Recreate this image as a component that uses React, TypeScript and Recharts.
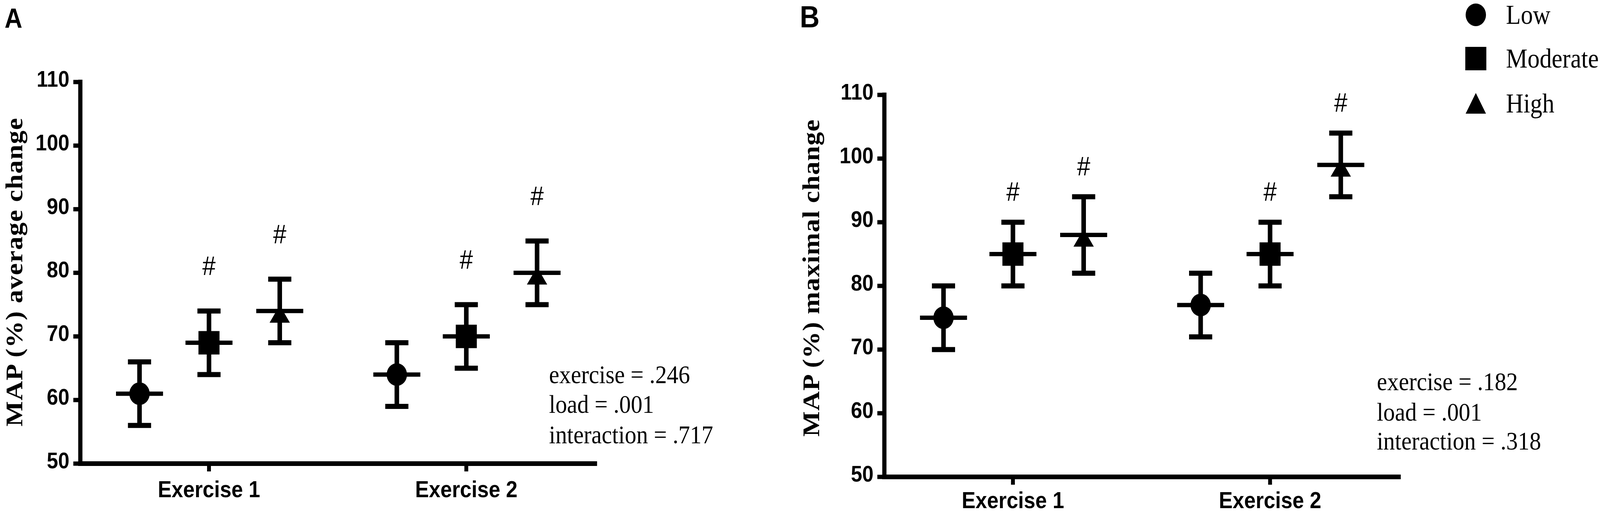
import React from "react";
import {
  ScatterChart,
  Scatter,
  XAxis,
  YAxis,
  ErrorBar,
  Legend,
  Label,
} from "recharts";

// categories / series
const exercises = ["Exercise 1", "Exercise 2"];
const levels = ["Low", "Moderate", "High"];
const yTicks = [50, 60, 70, 80, 90, 100, 110];

// A: MAP (%) average change, mean and SD per exercise
const avgLow = [61, 64];
const avgModerate = [69, 70];
const avgHigh = [74, 80];
const avgLowErr = [5, 5];
const avgModerateErr = [5, 5];
const avgHighErr = [5, 5];

// B: MAP (%) maximal change
const maxLow = [75, 77];
const maxModerate = [85, 85];
const maxHigh = [88, 99];
const maxLowErr = [5, 5];
const maxModerateErr = [5, 5];
const maxHighErr = [6, 5];

// p values printed on each panel
const avgStats = ["exercise = .246", "load = .001", "interaction = .717"];
const maxStats = ["exercise = .182", "load = .001", "interaction = .318"];

// levels marked with # (different from Low)
const flaggedLevels = ["Moderate", "High"];

const SANS = "'Liberation Sans', Arial, Helvetica, sans-serif";
const SERIF = "'Liberation Serif', 'Times New Roman', Times, serif";
const W = 4561;
const H = 1316;
const Y_AXIS_W = 120;
const X_AXIS_H = 90;
const GROUP_OFFSETS = [-0.27, 0, 0.275];

type Pt = { x: number; y: number; err: number; flag: boolean };

function toPoints(means: number[], errs: number[], level: number): Pt[] {
  return means.map((m, i) => ({
    x: i + 0.5 + GROUP_OFFSETS[level],
    y: m,
    err: errs[i],
    flag: flaggedLevels.includes(levels[level]),
  }));
}

function Marker({ kind, cx, cy, legend }: { kind: string; cx: number; cy: number; legend?: boolean }) {
  if (kind === "Low") return <circle cx={cx} cy={cy} r={29} fill="#000" />;
  if (kind === "Moderate")
    return <rect x={cx - 30} y={cy - 30} width={60} height={60} fill="#000" />;
  // triangle sits a bit low on the point in the original
  const top = legend ? cy - 27 : cy - 15;
  const base = legend ? cy + 26 : cy + 30;
  return <polygon points={`${cx},${top} ${cx - 29},${base} ${cx + 29},${base}`} fill="#000" />;
}

const pointShape = (kind: string, pxPerUnit: number, hashGap: number) => (props: any) => {
  const { cx, cy, payload } = props;
  if (cx == null || cy == null) return <g />;
  return (
    <g>
      <Marker kind={kind} cx={cx} cy={cy} />
      <line x1={cx - 67} x2={cx + 67} y1={cy} y2={cy} stroke="#000" strokeWidth={11} />
      {payload && payload.flag && (
        <text
          x={cx}
          y={cy - payload.err * pxPerUnit - hashGap + 24}
          textAnchor="middle"
          fontFamily={SANS}
          fontSize={68}
          fill="#000"
        >
          #
        </text>
      )}
    </g>
  );
};

const makeXTick = (drop: number) => (props: any) => {
  const { x, y, payload } = props;
  return (
    <text x={x} y={y + drop} textAnchor="middle" fontFamily={SANS} fontWeight="bold" fontSize={59} fill="#000">
      {exercises[Math.floor(payload.value)]}
    </text>
  );
};

const YTick = (props: any) => {
  const { x, y, payload } = props;
  return (
    <text x={x} y={y + 12} textAnchor="end" fontFamily={SANS} fontWeight="bold" fontSize={58} fill="#000">
      {payload.value}
    </text>
  );
};

const LoadLegend = (props: any) => {
  const names = (props.payload || []).map((p: any) => p.value);
  const items = levels.filter((l) => names.includes(l));
  const rows = [38, 150, 265];
  return (
    <svg width={400} height={310} style={{ overflow: "visible" }}>
      {items.map((name: string, i: number) => (
        <g key={name}>
          <Marker kind={name} cx={37} cy={rows[i]} legend />
          <text x={123} y={rows[i] + 23} fontFamily={SERIF} fontSize={69} fill="#000">
            {name}
          </text>
        </g>
      ))}
    </svg>
  );
};

type PanelProps = {
  left: number;
  width: number;
  margin: { top: number; right: number; bottom: number; left: number };
  title: string;
  titleX: number;
  titleY: number;
  titleLen: number;
  low: number[];
  lowErr: number[];
  moderate: number[];
  moderateErr: number[];
  high: number[];
  highErr: number[];
  hashGap: number;
  labelDrop: number;
  legend?: boolean;
};

function Panel(p: PanelProps) {
  const plotH = H - p.margin.top - p.margin.bottom - X_AXIS_H;
  const ppu = plotH / (yTicks[yTicks.length - 1] - yTicks[0]);
  const XTick = makeXTick(p.labelDrop);
  const series = [
    { name: levels[0], data: toPoints(p.low, p.lowErr, 0) },
    { name: levels[1], data: toPoints(p.moderate, p.moderateErr, 1) },
    { name: levels[2], data: toPoints(p.high, p.highErr, 2) },
  ];
  return (
    <div style={{ position: "absolute", left: p.left, top: 0 }}>
      <ScatterChart width={p.width} height={H} margin={p.margin}>
        <XAxis
          type="number"
          dataKey="x"
          domain={[0, 2]}
          ticks={[0.5, 1.5]}
          interval={0}
          height={X_AXIS_H}
          axisLine={{ stroke: "#000", strokeWidth: 12, strokeLinecap: "square" }}
          tickLine={{ stroke: "#000", strokeWidth: 11 }}
          tickSize={20}
          tickMargin={0}
          tick={<XTick />}
        />
        <YAxis
          type="number"
          dataKey="y"
          domain={[yTicks[0], yTicks[yTicks.length - 1]]}
          ticks={yTicks}
          interval={0}
          width={Y_AXIS_W}
          axisLine={{ stroke: "#000", strokeWidth: 12, strokeLinecap: "square" }}
          tickLine={{ stroke: "#000", strokeWidth: 11 }}
          tickSize={20}
          tickMargin={11}
          tick={<YTick />}
        >
          <Label
            content={() => (
              <text
                x={p.titleX}
                y={p.titleY}
                transform={`rotate(-90 ${p.titleX} ${p.titleY})`}
                textAnchor="middle"
                fontFamily={SERIF}
                fontWeight="bold"
                fontSize={69}
                textLength={p.titleLen}
                lengthAdjust="spacing"
                fill="#000"
              >
                {p.title}
              </text>
            )}
          />
        </YAxis>
        {series.map((s) => (
          <Scatter
            key={s.name}
            name={s.name}
            data={s.data}
            fill="#000"
            shape={pointShape(s.name, ppu, p.hashGap)}
            isAnimationActive={false}
          >
            <ErrorBar dataKey="err" direction="y" width={33} strokeWidth={13} stroke="#000" />
          </Scatter>
        ))}
        {p.legend && (
          <Legend
            layout="horizontal"
            verticalAlign="middle"
            align="center"
            content={<LoadLegend />}
            wrapperStyle={{ left: 1940, top: 0, width: 400, height: 310 }}
          />
        )}
      </ScatterChart>
    </div>
  );
}

function StatLines({ x, baselines, lines }: { x: number; baselines: number[]; lines: string[] }) {
  return (
    <>
      {lines.map((t, i) => (
        <text key={t} x={x} y={baselines[i]} fontFamily={SERIF} fontSize={66} fill="#000">
          {t}
        </text>
      ))}
    </>
  );
}

export default function App() {
  // the browser window can come out narrower than the figure; squeeze it to fit
  const vw = typeof window !== "undefined" && window.innerWidth ? window.innerWidth : W;
  const sx = Math.min(1, vw / W);
  return (
    <div style={{ position: "absolute", left: 0, top: 0, width: vw, height: H, overflow: "hidden", background: "#fff" }}>
      <div
        style={{
          position: "absolute",
          left: 0,
          top: 0,
          width: W,
          height: H,
          overflow: "hidden",
          background: "#fff",
          transform: `scale(${sx}, 1)`,
          transformOrigin: "0 0",
        }}
      >
        <Panel
          left={0}
          width={2230}
          margin={{ top: 210, right: 534, bottom: 39, left: 109 }}
          title="MAP (%)  average change"
          titleX={63}
          titleY={697}
          titleLen={790}
          low={avgLow}
          lowErr={avgLowErr}
          moderate={avgModerate}
          moderateErr={avgModerateErr}
          high={avgHigh}
          highErr={avgHighErr}
          hashGap={116}
          labelDrop={66}
        />
        <Panel
          left={2230}
          width={2331}
          margin={{ top: 243, right: 574, bottom: 5, left: 171 }}
          title="MAP (%) maximal change"
          titleX={105}
          titleY={712}
          titleLen={812}
          low={maxLow}
          lowErr={maxLowErr}
          moderate={maxModerate}
          moderateErr={maxModerateErr}
          high={maxHigh}
          highErr={maxHighErr}
          hashGap={79}
          labelDrop={60}
          legend
        />
        <svg
          width={W}
          height={H}
          style={{ position: "absolute", left: 0, top: 0, pointerEvents: "none" }}
        >
          <text x={13} y={71} fontFamily={SANS} fontWeight="bold" fontSize={70} fill="#000">
            A
          </text>
          <text x={2280} y={70} fontFamily={SANS} fontWeight="bold" fontSize={78} fill="#000">
            B
          </text>
          <StatLines x={1565} baselines={[981, 1057, 1135]} lines={avgStats} />
          <StatLines x={3925} baselines={[999, 1077, 1151]} lines={maxStats} />
        </svg>
      </div>
    </div>
  );
}
